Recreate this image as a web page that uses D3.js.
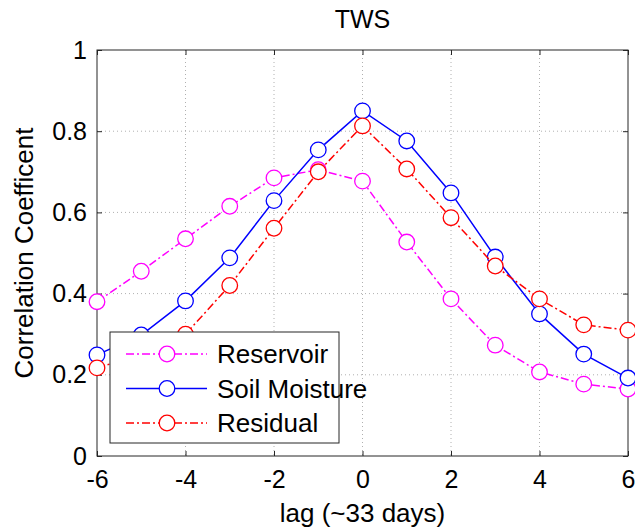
<!DOCTYPE html>
<html lang="en">
<head>
<meta charset="UTF-8">
<title>TWS</title>
<script src="https://d3js.org/d3.v7.min.js"></script>
<style>
  body { margin: 0; background: #fff; }
  text { font-family: "Liberation Sans", Arial, sans-serif; fill: #000; }
</style>
</head>
<body>
<script>
  const lags = [-6, -5, -4, -3, -2, -1, 0, 1, 2, 3, 4, 5, 6]
  const reservoir    = [0.38, 0.455, 0.535, 0.615, 0.685, 0.705, 0.677, 0.527, 0.387, 0.273, 0.207, 0.177, 0.165]
  const soilMoisture = [0.249, 0.298, 0.382, 0.488, 0.629, 0.754, 0.85, 0.776, 0.648, 0.49, 0.35, 0.251, 0.192]
  const residual     = [0.217, 0.25, 0.30, 0.42, 0.561, 0.70, 0.813, 0.707, 0.587, 0.468, 0.387, 0.323, 0.31]
  const xTicks = [-6, -4, -2, 0, 2, 4, 6]
  const yTicks = [0, 0.2, 0.4, 0.6, 0.8, 1]
  const seriesNames = ["Reservoir", "Soil Moisture", "Residual"]

  const W = 635, H = 531
  const margin = {top: 50, right: 7, bottom: 75, left: 97}
  const iw = W - margin.left - margin.right
  const ih = H - margin.top - margin.bottom

  const x = d3.scaleLinear().domain([-6, 6]).range([0, iw])
  const y = d3.scaleLinear().domain([0, 1]).range([ih, 0])

  const svg = d3.select("body").append("svg")
      .attr("width", W).attr("height", H)

  const chart = svg.append("g")
      .attr("transform", "translate(" + margin.left + "," + margin.top + ")")

  // grid
  chart.selectAll(".gx").data(xTicks.slice(1, -1)).enter().append("line")
      .attr("x1", d => x(d)).attr("x2", d => x(d))
      .attr("y1", 0).attr("y2", ih)
      .attr("stroke", "#b0b0b0").attr("stroke-dasharray", "1,3")
  chart.selectAll(".gy").data(yTicks.slice(1, -1)).enter().append("line")
      .attr("y1", d => y(d)).attr("y2", d => y(d))
      .attr("x1", 0).attr("x2", iw)
      .attr("stroke", "#b0b0b0").attr("stroke-dasharray", "1,3")

  // axes
  const fmt = d => String(d)
  chart.append("g").attr("transform", "translate(0," + ih + ")")
      .call(d3.axisBottom(x).tickValues(xTicks).tickSizeInner(-5).tickSizeOuter(0).tickPadding(14).tickFormat(fmt))
  chart.append("g").attr("transform", "translate(0,0)")
      .call(d3.axisTop(x).tickValues(xTicks).tickSizeInner(-5).tickSizeOuter(0).tickFormat(""))
  chart.append("g")
      .call(d3.axisLeft(y).tickValues(yTicks).tickSizeInner(-5).tickSizeOuter(0).tickPadding(10).tickFormat(fmt))
  chart.append("g").attr("transform", "translate(" + iw + ",0)")
      .call(d3.axisRight(y).tickValues(yTicks).tickSizeInner(-5).tickSizeOuter(0).tickFormat(""))
  chart.selectAll(".domain").remove()
  chart.selectAll(".tick line").attr("stroke", "#262626")
  chart.selectAll(".tick text").attr("font-size", 25).attr("fill", "#000")
      .style("font-family", "'Liberation Sans', Arial, sans-serif")

  chart.append("rect").attr("width", iw).attr("height", ih)
      .attr("fill", "none").attr("stroke", "#262626").attr("stroke-width", 1)

  // series
  const series = [
    {name: seriesNames[0], values: reservoir, color: "#ff00ff", dash: "8,3,2,3"},
    {name: seriesNames[1], values: soilMoisture, color: "#0000ff", dash: null},
    {name: seriesNames[2], values: residual, color: "#ff0000", dash: "8,3,2,3"}
  ]
  const line = d3.line().x((d, i) => x(lags[i])).y(d => y(d))

  series.forEach(s => {
    chart.append("path").datum(s.values)
        .attr("d", line).attr("fill", "none")
        .attr("stroke", s.color).attr("stroke-width", 1.5)
        .attr("stroke-dasharray", s.dash)
    chart.selectAll(null).data(s.values).enter().append("circle")
        .attr("cx", (d, i) => x(lags[i])).attr("cy", d => y(d))
        .attr("r", 7.8).attr("fill", "#fff")
        .attr("stroke", s.color).attr("stroke-width", 1.3)
  })

  // legend
  const leg = chart.append("g").attr("transform", "translate(13,282)")
  leg.append("rect").attr("width", 229).attr("height", 111)
      .attr("fill", "#fff").attr("stroke", "#262626")
  series.forEach((s, i) => {
    const ly = 22 + i * 34.5
    leg.append("line").attr("x1", 16).attr("x2", 97).attr("y1", ly).attr("y2", ly)
        .attr("stroke", s.color).attr("stroke-width", 1.5).attr("stroke-dasharray", s.dash)
    leg.append("circle").attr("cx", 57).attr("cy", ly).attr("r", 7.8)
        .attr("fill", "#fff").attr("stroke", s.color).attr("stroke-width", 1.3)
    leg.append("text").attr("x", 107).attr("y", ly).attr("dy", "0.36em")
        .attr("font-size", 26).text(s.name)
  })

  // labels
  svg.append("text").attr("x", margin.left + iw / 2).attr("y", 28)
      .attr("text-anchor", "middle").attr("font-size", 25).text("TWS")
  svg.append("text").attr("x", margin.left + iw / 2).attr("y", 522)
      .attr("text-anchor", "middle").attr("font-size", 26).text("lag (~33 days)")
  svg.append("text")
      .attr("transform", "translate(33," + (margin.top + ih / 2) + ") rotate(-90)")
      .attr("text-anchor", "middle").attr("font-size", 26).text("Correlation Coefficent")
</script>
</body>
</html>
